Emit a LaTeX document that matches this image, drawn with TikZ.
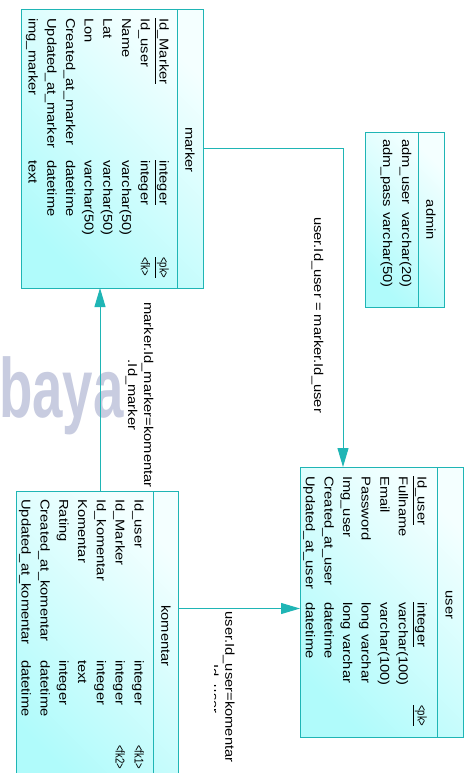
\documentclass[tikz,border=0pt]{standalone}
\usepackage{fontspec}
\setmainfont{Liberation Sans}[FakeStretch=1.15]
\newfontfamily\wmfont{Liberation Sans}
\usetikzlibrary{arrows.meta}

\definecolor{tealline}{HTML}{1FB5B5}
\definecolor{cyandeep}{HTML}{B0FBFB}
\definecolor{cyanpale}{HTML}{F4FFFF}
\definecolor{wmgray}{HTML}{C8CCE0}

\tikzset{
  tbl/.style={draw=tealline, line width=1pt, inner sep=0pt, outer sep=0pt,
    top color=cyanpale, bottom color=cyandeep, shading angle=-45},
  col/.style={rotate=-90, anchor=base west, inner sep=0pt, font=\fontsize{12.8}{16}\selectfont},
  keycol/.style={col, xscale=0.65},
  ttl/.style={rotate=-90, inner sep=0pt, font=\fontsize{12.8}{16}\selectfont},
  lbl/.style={rotate=-90, inner sep=0pt, align=center, font=\fontsize{12.8}{16}\selectfont},
  rel/.style={draw=tealline, line width=1pt, -{Triangle[length=19pt,width=11pt]}},
  sep/.style={draw=tealline, line width=1pt},
}

\begin{document}
\begin{tikzpicture}[x=1pt,y=-1pt]
  \useasboundingbox[fill=white] (0,0) rectangle (468,773);
  \node[text=wmgray, anchor=base west, inner sep=0pt, xscale=0.65,
    font=\wmfont\bfseries\fontsize{84}{84}\selectfont] (wm) at (-1,417) {baya};

  \begin{scope}
    \node[tbl, minimum width=182, minimum height=278] (marker) at (112,149) {};
    \draw[sep] ([xshift=-26pt]marker.north east) -- ([xshift=-26pt]marker.south east);
    \node[ttl] (marker-t) at (190,150) {marker};
    \foreach \nm/\ty/\ky [count=\i] in {\underline{Id\_Marker}/\underline{integer}/\underline{<pk>},
        Id\_user/integer/<fk>, Name/varchar(50)/{}, Lat/varchar(50)/{}, Lon/varchar(50)/{},
        Created\_at\_marker/datetime/{}, Updated\_at\_marker/datetime/{}, img\_marker/text/{}} {
      \node[col] (marker-n\i) at ({178.2-18.7*\i},18) {\nm};
      \node[col] (marker-y\i) at ({178.2-18.7*\i},160) {\ty};
      \node[keycol] (marker-k\i) at ({178.2-18.7*\i},257) {\ky};
    }
  \end{scope}

  \begin{scope}
    \node[tbl, minimum width=79, minimum height=175] (admin) at (404.5,219.5) {};
    \draw[sep] ([xshift=-26pt]admin.north east) -- ([xshift=-26pt]admin.south east);
    \node[ttl] (admin-t) at (431,220) {admin};
    \foreach \nm/\ty [count=\i] in {adm\_user/varchar(20), adm\_pass/varchar(50)} {
      \node[col] (admin-n\i) at ({421-19*\i},139) {\nm};
      \node[col] (admin-y\i) at ({421-19*\i},212) {\ty};
    }
  \end{scope}

  \begin{scope}
    \node[tbl, minimum width=163, minimum height=270] (user) at (381.5,602) {};
    \draw[sep] ([xshift=-26pt]user.north east) -- ([xshift=-26pt]user.south east);
    \node[ttl] (user-t) at (449,605) {user};
    \foreach \nm/\ty/\ky [count=\i] in {\underline{Id\_user}/\underline{integer}/\underline{<pk>},
        Fullname/varchar(100)/{}, Email/varchar(100)/{}, Password/long varchar/{},
        Img\_user/long varchar/{}, Created\_at\_user/datetime/{}, Updated\_at\_user/datetime/{}} {
      \node[col] (user-n\i) at ({436.1-18.6*\i},476) {\nm};
      \node[col] (user-y\i) at ({436.1-18.6*\i},602) {\ty};
      \node[keycol] (user-k\i) at ({436.1-18.6*\i},705) {\ky};
    }
  \end{scope}

  \begin{scope}
    \node[tbl, minimum width=162, minimum height=300] (komentar) at (97,641) {};
    \draw[sep] ([xshift=-25pt]komentar.north east) -- ([xshift=-25pt]komentar.south east);
    \node[ttl] (komentar-t) at (166,636) {komentar};
    \foreach \nm/\ty/\ky [count=\i] in {Id\_user/integer/<fk1>, Id\_Marker/integer/<fk2>,
        Id\_komentar/integer/{}, Komentar/text/{}, Rating/integer/{},
        Created\_at\_komentar/datetime/{}, Updated\_at\_komentar/datetime/{}} {
      \node[col] (komentar-n\i) at ({153.3-18.8*\i},499) {\nm};
      \node[col] (komentar-y\i) at ({153.3-18.8*\i},660) {\ty};
      \node[keycol] (komentar-k\i) at ({153.3-18.8*\i},745) {\ky};
    }
  \end{scope}

  \draw[rel] (marker.east |- 0,148) -| (user.north -| 343,0);
  \coordinate (kup) at ([xshift=3pt]komentar.north);
  \draw[rel] (kup) -- (kup |- marker.south);
  \draw[rel] (komentar.east |- 0,608.5) -- (user.west |- 0,608.5);

  \node[lbl] (rel-mu) at (317.5,315) {user.Id\_user = marker.Id\_user};
  \node[lbl] (rel-km) at (139.5,395) {marker.Id\_marker=komentar\\.Id\_marker};
  \begin{scope}
    \clip (214,600) rectangle (250,773);
    \node[lbl] (rel-ku) at (220.7,687) {user.Id\_user=komentar\\.Id\_user};
  \end{scope}
\end{tikzpicture}
\end{document}
